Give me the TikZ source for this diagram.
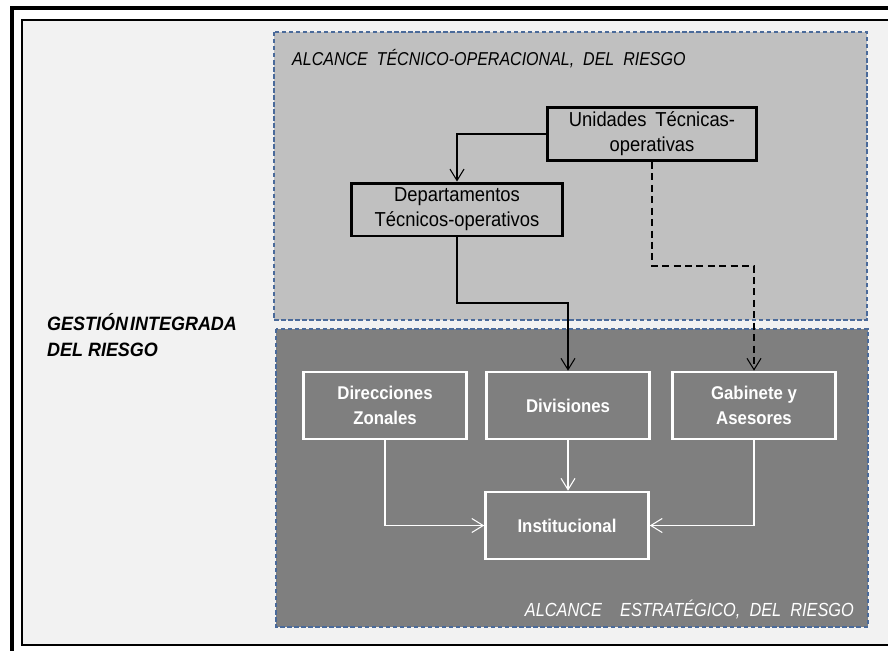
\documentclass[tikz,border=0pt]{standalone}
\usepackage{fontspec}
\setmainfont{Liberation Sans}
\newfontfamily\angosta[FakeStretch=0.86]{Liberation Sans}
\newfontfamily\media[FakeStretch=0.91]{Liberation Sans}
\newfontfamily\ancha[FakeStretch=0.93]{Liberation Sans}
\usetikzlibrary{arrows.meta}
\definecolor{fondo}{HTML}{F2F2F2}
\definecolor{zonaop}{HTML}{C0C0C0}
\definecolor{zonaest}{HTML}{7F7F7F}
\definecolor{bordeazul}{HTML}{4A6A9A}
\tikzset{
  zona/.style={draw=bordeazul,line width=0.8pt,dash pattern=on 2.5pt off 1.5pt},
  cajanegra/.style={draw=black,line width=1.7pt,align=center,inner sep=1pt,
    font=\media\fontsize{11.5}{14.2}\selectfont},
  cajablanca/.style={draw=white,line width=1.5pt,align=center,inner sep=1pt,
    text=white,font=\media\fontsize{10.5}{14.2}\selectfont\bfseries,
    minimum width=3.26cm,minimum height=1.34cm},
  flecha/.style={-{Straight Barb[length=6.5pt,width=8pt,line width=0.6pt]},line width=0.6pt},
}
\begin{document}
\begin{tikzpicture}[x=0.02cm,y=-0.02cm]
\useasboundingbox (0,0) rectangle (888,650);
\clip (0,0) rectangle (888,650);
% marco exterior
\fill[white] (0,0) rectangle (888,650);
\draw[line width=2.3pt] (12,8) rectangle (910,670);
\draw[fill=fondo,line width=0.7pt] (22,20) rectangle (905,645);
% zonas
\draw[zona,fill=zonaop] (274,32) rectangle (867,320);
\draw[zona,fill=zonaest] (276,329) rectangle (868,627);
\node[anchor=west,font=\angosta\fontsize{10.6}{12}\selectfont\itshape] (tituloop) at (286,59)
  {ALCANCE\ \ TÉCNICO-OPERACIONAL,\ \ DEL\ \ RIESGO};
\node[anchor=east,text=white,font=\angosta\fontsize{10.8}{12}\selectfont\itshape] (tituloest) at (860,609)
  {ALCANCE\ \ \ \ ESTRATÉGICO,\ \ DEL\ \ RIESGO};
\node[anchor=west,align=left,inner sep=1pt,font=\ancha\fontsize{11}{14.7}\selectfont\bfseries\itshape] (gestion) at (45,335)
  {GESTIÓN\kern1.2pt INTEGRADA\\DEL RIESGO};
% cajas tecnicas
\node[cajanegra,minimum width=4.18cm,minimum height=1.06cm] (uni) at (652,134)
  {Unidades\kern5pt Técnicas-\\operativas};
\node[cajanegra,minimum width=4.22cm,minimum height=1.06cm] (dep) at (457,209.5)
  {Departamentos\\Técnicos-operativos};
% cajas estrategicas
\node[cajablanca] (dir) at (385,405.5) {Direcciones\\Zonales};
\node[cajablanca] (div) at (568,405.5) {Divisiones};
\node[cajablanca] (gab) at (754,405.5) {Gabinete y\\Asesores};
\node[cajablanca] (inst) at (567,525.5) {Institucional};
% conectores
\coordinate (codo1) at (652,266);
\coordinate (codo2) at (457,303);
\draw[flecha] (uni.west) -| (dep.north);
\draw[flecha,dash pattern=on 4pt off 2.5pt] (uni.south) -- (codo1) -| (gab.north);
\draw[flecha] (dep.south) -- (codo2) -| (div.north);
\draw[flecha,white] (div) -- (div |- inst.north);
\draw[flecha,white] (dir.south) |- (inst.west);
\draw[flecha,white] (gab.south) |- (inst.east);
\end{tikzpicture}
\end{document}
